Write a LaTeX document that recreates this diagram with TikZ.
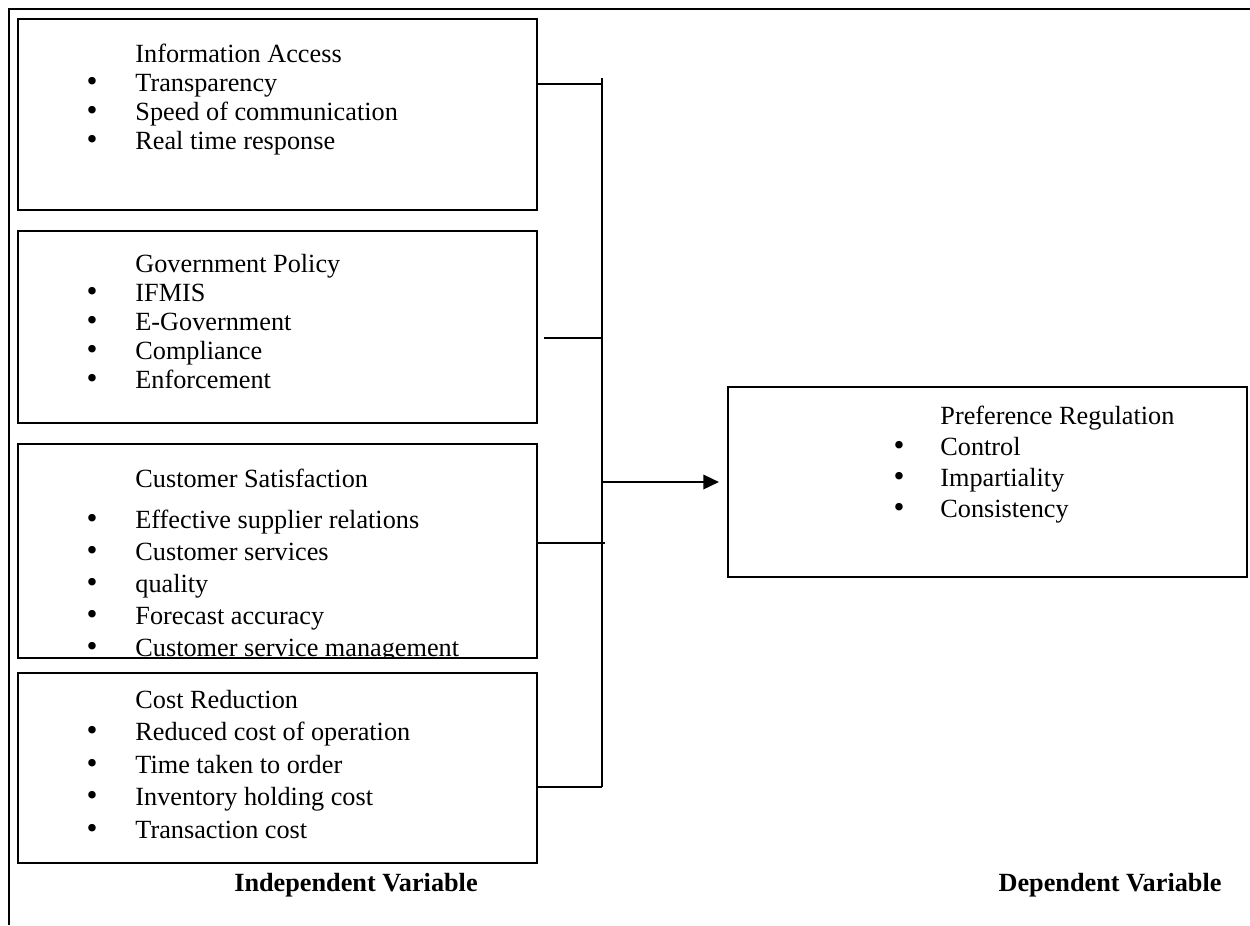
\documentclass[tikz,border=0pt]{standalone}
\usepackage{fontspec}
\setmainfont{Liberation Serif}
\usetikzlibrary{fit,arrows.meta}

\begin{document}
\begin{tikzpicture}[x=0.48pt,y=-0.48pt,
  box/.style={draw=black, line width=1.1pt, inner sep=0pt},
  link/.style={draw=black, line width=0.8pt},
  item/.style={anchor=base west, inner sep=0pt, font=\fontsize{12.6}{15}\selectfont},
  dot/.style={anchor=base, inner sep=0pt, font=\fontsize{15}{15}\selectfont},
  caption/.style={anchor=base, inner sep=0pt, font=\fontsize{12.6}{15}\selectfont\bfseries}]
\useasboundingbox (0,0) rectangle (1250,925);
% page frame
\draw [line width=1.2pt] (9,925) -- (9,9) -- (1250,9);
% independent variables
\node [box, fit={(18,19) (537,210)}] (access) {};
\node [item] (ia0) at (135,62) {Information Access};
\node [dot] (ia1b) at (92,91) {\textbullet};
\node [item] (ia1) at (135,91) {Transparency};
\node [dot] (ia2b) at (92,120) {\textbullet};
\node [item] (ia2) at (135,120) {Speed of communication};
\node [dot] (ia3b) at (92,149) {\textbullet};
\node [item] (ia3) at (135,149) {Real time response};
\node [box, fit={(18,231) (537,423)}] (policy) {};
\node [item] (gp0) at (135,272) {Government Policy};
\node [dot] (gp1b) at (92,301) {\textbullet};
\node [item] (gp1) at (135,301) {IFMIS};
\node [dot] (gp2b) at (92,330) {\textbullet};
\node [item] (gp2) at (135,330) {E-Government};
\node [dot] (gp3b) at (92,359) {\textbullet};
\node [item] (gp3) at (135,359) {Compliance};
\node [dot] (gp4b) at (92,388) {\textbullet};
\node [item] (gp4) at (135,388) {Enforcement};
\node [box, fit={(18,444) (537,658)}] (satisf) {};
\begin{scope}
\clip (18,444) rectangle (537,658);
\node [item] (cs0) at (135,487) {Customer Satisfaction};
\node [dot] (cs1b) at (92,528) {\textbullet};
\node [item] (cs1) at (135,528) {Effective supplier relations};
\node [dot] (cs2b) at (92,560) {\textbullet};
\node [item] (cs2) at (135,560) {Customer services};
\node [dot] (cs3b) at (92,592) {\textbullet};
\node [item] (cs3) at (135,592) {quality};
\node [dot] (cs4b) at (92,624) {\textbullet};
\node [item] (cs4) at (135,624) {Forecast accuracy};
\node [dot] (cs5b) at (92,656) {\textbullet};
\node [item] (cs5) at (135,656) {Customer service management};
\end{scope}
\node [box, fit={(18,673) (537,863)}] (cost) {};
\node [item] (cr0) at (135,708) {Cost Reduction};
\node [dot] (cr1b) at (92,740) {\textbullet};
\node [item] (cr1) at (135,740) {Reduced cost of operation};
\node [dot] (cr2b) at (92,773) {\textbullet};
\node [item] (cr2) at (135,773) {Time taken to order};
\node [dot] (cr3b) at (92,805) {\textbullet};
\node [item] (cr3) at (135,805) {Inventory holding cost};
\node [dot] (cr4b) at (92,838) {\textbullet};
\node [item] (cr4) at (135,838) {Transaction cost};
% dependent variable
\node [box, fit={(728,387) (1247,577)}] (prefreg) {};
\node [item] (pr0) at (940,424) {Preference Regulation};
\node [dot] (pr1b) at (899,455) {\textbullet};
\node [item] (pr1) at (940,455) {Control};
\node [dot] (pr2b) at (899,486) {\textbullet};
\node [item] (pr2) at (940,486) {Impartiality};
\node [dot] (pr3b) at (899,517) {\textbullet};
\node [item] (pr3) at (940,517) {Consistency};
% connectors
\coordinate (bustop) at (602,78);
\coordinate (j1) at (602,84);
\coordinate (j2) at (602,338);
\coordinate (j3) at (605,543);
\coordinate (j4) at (602,787);
\coordinate (jout) at (602,482);
\draw [link] (bustop) -- (j4);
\draw [link] (access.east |- j1) -- (j1);
\draw [link] ([xshift=2.9pt]policy.east |- j2) -- (j2);
\draw [link] (satisf.east |- j3) -- (j3);
\draw [link] (cost.east |- j4) -- (j4);
\draw [link, -{Triangle[length=7.5pt,width=7pt]}, shorten >=3.8pt] (jout) -- (prefreg.west);
% captions
\node [caption] (indep) at (356,891) {Independent Variable};
\node [caption] (dep) at (1110,891) {Dependent Variable};
\end{tikzpicture}
\end{document}
